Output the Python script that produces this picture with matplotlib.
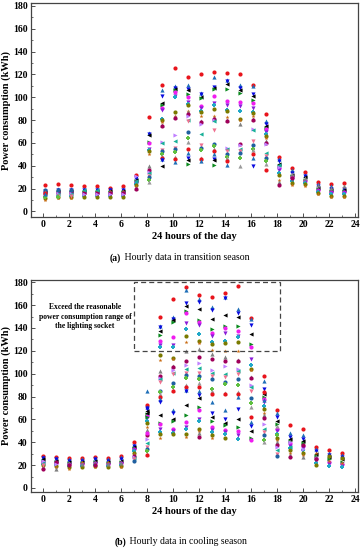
import matplotlib
matplotlib.use("Agg")
import matplotlib.pyplot as plt
from matplotlib.patches import Rectangle
from matplotlib.ticker import MultipleLocator

plt.rcParams['font.family'] = ['Liberation Serif', 'DejaVu Serif']

hours = list(range(24))

# transition season, hourly readings (kWh), one list per hour
transition = [
    [23, 19, 18, 17, 16, 15, 14, 13, 12, 10, 18, 17, 16, 15, 14, 19, 13, 17, 16, 15],
    [24, 20, 19, 18, 17, 16, 15, 14, 13, 12, 18, 17, 16, 15, 14, 19, 13],
    [23, 20, 19, 18, 17, 16, 15, 14, 13, 12, 18, 17, 16, 15, 14, 19],
    [22, 20, 19, 18, 17, 16, 15, 14, 13, 18, 17, 16, 15, 19],
    [22, 20, 19, 18, 17, 16, 15, 14, 13, 18, 17, 16, 15, 19],
    [21, 20, 19, 18, 17, 16, 15, 14, 13, 18, 17, 16, 15],
    [22, 20, 19, 18, 17, 16, 15, 14, 13, 18, 17, 16, 15],
    [32, 30, 29, 28, 27, 26, 25, 24, 23, 22, 21, 20, 31, 27],
    [83, 69, 68, 67, 61, 60, 55, 54, 53, 50, 40, 36, 35, 34, 31, 30, 28, 26],
    [111, 106, 101, 95, 93, 91, 89, 81, 80, 78, 76, 75, 61, 60, 54, 53, 50, 49, 47, 46, 45, 40],
    [126, 110, 108, 107, 106, 105, 101, 100, 87, 84, 83, 82, 67, 62, 56, 55, 52, 48, 46, 43],
    [118, 111, 107, 106, 103, 100, 96, 94, 93, 88, 87, 85, 84, 80, 79, 70, 64, 61, 55, 51, 47, 45, 42],
    [120, 104, 103, 100, 99, 92, 91, 88, 87, 84, 79, 78, 77, 68, 58, 56, 54, 47, 46, 44],
    [122, 118, 109, 108, 107, 101, 95, 93, 90, 84, 82, 81, 80, 79, 71, 59, 57, 55, 53, 50, 46, 45, 41],
    [121, 115, 114, 112, 107, 97, 93, 89, 88, 83, 80, 79, 56, 55, 53, 50, 48, 47, 44, 41],
    [120, 111, 108, 106, 104, 96, 92, 88, 81, 80, 77, 59, 58, 55, 53, 51, 47, 40],
    [111, 110, 103, 101, 98, 95, 91, 87, 86, 84, 81, 80, 72, 71, 62, 58, 55, 54, 50, 47, 40],
    [85, 79, 77, 75, 73, 72, 70, 68, 66, 64, 62, 60, 59, 51, 49, 47, 44, 42, 36],
    [48, 46, 44, 42, 40, 38, 36, 34, 32, 28, 26, 23, 39, 41],
    [38, 36, 34, 32, 31, 30, 28, 27, 25, 23, 33, 29],
    [35, 32, 31, 30, 28, 27, 26, 25, 24, 22, 29],
    [26, 24, 22, 21, 20, 19, 18, 17, 16, 15, 23],
    [24, 22, 20, 19, 18, 17, 16, 15, 14, 13, 21],
    [25, 21, 20, 19, 18, 17, 16, 15, 14, 13, 22],
]

# cooling season, hourly readings (kWh), one list per hour
cooling = [
    [28, 27, 26, 25, 24, 23, 22, 21, 20, 19, 18, 17, 24, 22, 20],
    [27, 26, 25, 24, 23, 22, 21, 20, 19, 18, 17, 23, 21],
    [26, 25, 24, 23, 22, 21, 20, 19, 18, 17, 22, 20],
    [26, 25, 24, 23, 22, 21, 20, 19, 18, 23, 21],
    [27, 26, 25, 24, 23, 22, 21, 20, 19, 18, 22, 20],
    [26, 25, 24, 23, 22, 21, 20, 19, 18, 23, 21],
    [28, 27, 25, 24, 23, 22, 21, 20, 19, 18, 22],
    [40, 38, 37, 36, 35, 34, 33, 32, 31, 30, 29, 28, 27, 26, 25, 24],
    [73, 71, 69, 67, 65, 63, 61, 59, 57, 53, 51, 46, 43, 39, 36, 34, 32, 30, 29, 85, 70, 66, 62, 48],
    [150, 142, 141, 137, 134, 129, 125, 123, 116, 112, 102, 98, 96, 95, 93, 85, 84, 82, 80, 78, 75, 64, 57, 56, 52, 49, 47, 44],
    [165, 150, 148, 147, 145, 132, 125, 123, 114, 113, 107, 106, 103, 101, 100, 92, 88, 86, 85, 68, 66, 60, 59, 52, 50, 48, 47],
    [176, 173, 162, 159, 155, 153, 144, 139, 133, 128, 120, 111, 108, 104, 101, 99, 96, 90, 88, 86, 85, 73, 64, 58, 53, 52, 47, 45],
    [169, 165, 163, 157, 147, 145, 143, 135, 129, 127, 122, 115, 109, 105, 101, 98, 95, 92, 88, 85, 81, 79, 71, 68, 60, 59, 52, 50, 48, 45],
    [167, 158, 156, 148, 139, 136, 133, 128, 126, 121, 117, 113, 103, 101, 98, 95, 87, 85, 82, 75, 66, 62, 59, 53, 51, 49, 46, 44],
    [171, 167, 166, 151, 142, 140, 136, 129, 127, 120, 115, 111, 107, 100, 97, 93, 91, 83, 82, 68, 60, 57, 55, 51, 49, 47, 44],
    [177, 157, 153, 150, 142, 137, 133, 132, 128, 120, 112, 111, 104, 102, 100, 95, 90, 84, 82, 80, 69, 60, 53, 50, 46, 43],
    [149, 148, 143, 135, 126, 123, 113, 108, 104, 103, 97, 96, 90, 88, 85, 79, 74, 71, 62, 58, 54, 50, 44, 42],
    [98, 94, 87, 82, 80, 78, 75, 72, 69, 66, 64, 61, 56, 52, 49, 46, 42, 40, 84, 77],
    [68, 66, 62, 59, 56, 52, 50, 47, 44, 42, 40, 38, 36, 33, 30, 28, 46, 54],
    [55, 48, 45, 43, 41, 39, 37, 35, 33, 31, 29, 27, 40, 36],
    [52, 46, 43, 41, 39, 37, 35, 33, 31, 29, 27, 38, 34],
    [36, 34, 32, 30, 28, 26, 24, 22, 20, 31, 27, 25],
    [33, 31, 29, 27, 25, 23, 21, 19, 28, 24],
    [31, 29, 27, 25, 23, 21, 19, 18, 26, 22],
]

note_lines = ["Exceed the reasonable", "power consumption range of", "the lighting socket"]

colors = ['#e8141c', '#1f6fb8', '#0a0ae0', '#000000', '#0b8a1e', '#f01cf0', '#8a1cd8',
          '#20a8c8', '#7a7a00', '#c86a10', '#808080', '#a0005a', '#c080ff', '#18b098',
          '#f07090', '#2060a0', '#60c040', '#9a9a9a']
markers = ['o', '^', 'v', '<', '>', 'o', 'v', 'P', 'o', '*', '^', 'o', '>', '<', 'v', 'o', 'P', '^']


def draw(ax, data, xoff):
    n = max(len(v) for v in data)
    for i in range(n):
        xs = [h + xoff for h, v in zip(hours, data) if len(v) > i]
        ys = [v[i] for v in data if len(v) > i]
        ax.scatter(xs, ys, s=9, marker=markers[i % len(markers)],
                   color=colors[i % len(colors)], linewidths=0, zorder=3)
    ax.set_xlim(-0.95, 24.2)
    ax.set_xticks(range(0, 25, 2))
    ax.xaxis.set_minor_locator(MultipleLocator(1))
    ax.set_yticks(range(0, 181, 20))
    ax.yaxis.set_minor_locator(MultipleLocator(10))
    ax.tick_params(which='both', direction='in', labelsize=7, color='#333333')
    ax.tick_params(which='major', length=3, width=0.6, pad=2.5)
    ax.tick_params(which='minor', length=1.5, width=0.5)
    for lab in ax.get_xticklabels() + ax.get_yticklabels():
        lab.set_fontweight('bold')
    for sp in ax.spines.values():
        sp.set_color('#444444')
        sp.set_linewidth(0.9)
    ax.set_xlabel('24 hours of the day', fontsize=7.5, fontweight='bold', labelpad=2)
    ax.set_ylabel('Power consumption (kWh)', fontsize=7.5, fontweight='bold', labelpad=1)


fig = plt.figure(figsize=(3.62, 5.5), dpi=100)

ax1 = fig.add_axes([0.0856, 0.6055, 0.9033, 0.389])
draw(ax1, transition, 0.1)
ax1.set_ylim(-4.8, 182.6)

ax2 = fig.add_axes([0.0856, 0.1055, 0.9033, 0.3855])
draw(ax2, cooling, 0.0)
ax2.set_ylim(-3.5, 182)

ax2.add_patch(Rectangle((6.95, 120), 18.2 - 6.95, 60, fill=False, ls=(0, (4, 2.5)),
                        lw=0.9, edgecolor='#444444', zorder=4))
for k, line in enumerate(note_lines):
    ax2.text(3.2, 158 - 8 * k, line, ha='center', va='center', fontsize=5.5,
             fontweight='bold')

fig.text(0.335, 1 - 258 / 550, '(a)', ha='right', va='center', fontsize=7, fontweight='bold')
fig.text(0.337, 1 - 258 / 550, ' Hourly data in transition season', ha='left', va='center', fontsize=7)
fig.text(0.349, 1 - 542 / 550, '(b)', ha='right', va='center', fontsize=7, fontweight='bold')
fig.text(0.351, 1 - 542 / 550, ' Hourly data in cooling season', ha='left', va='center', fontsize=7)

fig.savefig('out.png', dpi=100)
